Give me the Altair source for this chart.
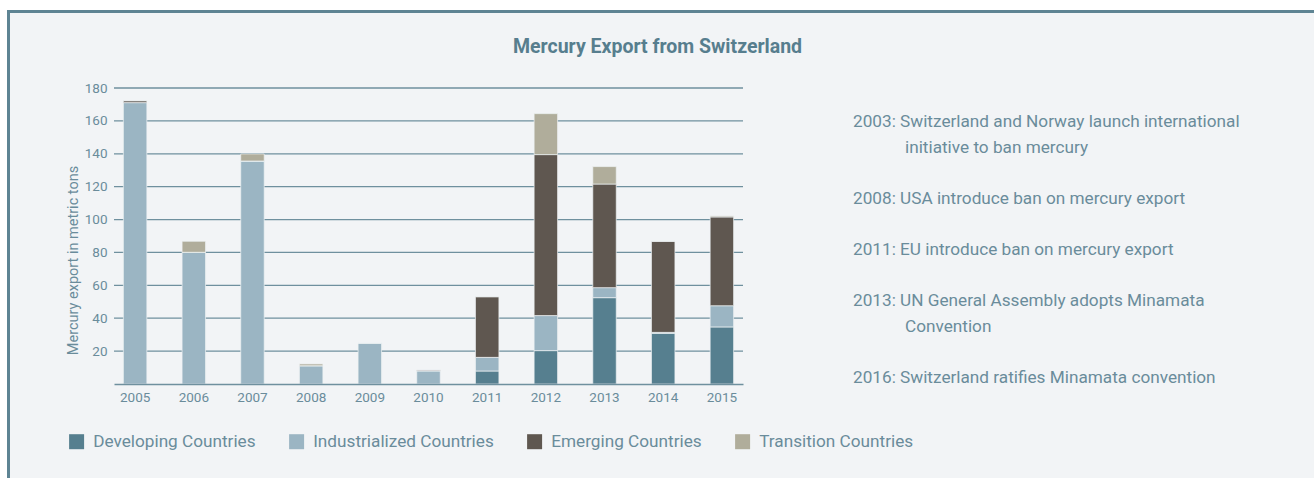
import altair as alt
import pandas as pd

years = ["2005", "2006", "2007", "2008", "2009", "2010", "2011", "2012", "2013", "2014", "2015"]
developing = [0, 0, 0, 0, 0, 0, 7.9, 20.3, 52.5, 30.8, 34.7]
industrialized = [171.1, 80.1, 135.6, 11.1, 24.9, 7.9, 8.3, 21.3, 6.1, 0.6, 12.9]
emerging = [1.2, 0, 0, 0, 0, 0.6, 36.9, 97.9, 63.0, 55.4, 54.0]
transition = [0, 6.7, 4.3, 1.1, 0, 0, 0, 24.9, 10.6, 0, 0.6]

groups = ["Developing Countries", "Industrialized Countries", "Emerging Countries", "Transition Countries"]
colors = ["#567f8f", "#9bb5c3", "#5f5750", "#b0ad9b"]

grid_values = [20, 40, 60, 80, 100, 120, 140, 160, 180]

note_first = [
    "2003: Switzerland and Norway launch international",
    "2008: USA introduce ban on mercury export",
    "2011: EU introduce ban on mercury export",
    "2013: UN General Assembly adopts Minamata",
    "2016: Switzerland ratifies Minamata convention",
]
note_first_slot = [0, 3, 5, 7, 10]
note_cont = ["initiative to ban mercury", "Convention"]
note_cont_slot = [1, 8]

FONT = "Roboto"
TXT = "#6a8c9b"
LINE = "#6f909e"

rows = []
for i, y in enumerate(years):
    for k, (g, vals) in enumerate(zip(groups, [developing, industrialized, emerging, transition])):
        rows.append({"year": y, "group": g, "value": vals[i], "k": k})
df = pd.DataFrame(rows)

W, H = 629, 296

frame = alt.Chart(pd.DataFrame({"a": [0]})).mark_rect(
    fill="#f2f4f6", stroke="#5e8493", strokeWidth=3
).encode(
    x=alt.value(-105.5), x2=alt.value(1220), y=alt.value(-76.5), y2=alt.value(420)
)

grid = alt.Chart(pd.DataFrame({"v": grid_values})).mark_rule(
    color=LINE, strokeWidth=1.3
).encode(
    y=alt.Y("v:Q", scale=alt.Scale(domain=[0, 180]), axis=None),
    x=alt.value(0), x2=alt.value(W),
)

bars = alt.Chart(df).mark_bar(stroke="#eef2f4", strokeWidth=0.7).encode(
    x=alt.X("year:N", sort=years,
            scale=alt.Scale(paddingInner=0.6, paddingOuter=0.16),
            axis=alt.Axis(title=None, labelAngle=0, ticks=False, domain=True,
                          domainColor=LINE, domainWidth=1.5, labelPadding=6,
                          labelFont=FONT, labelFontSize=13.5, labelColor=TXT, zindex=1)),
    y=alt.Y("value:Q", stack="zero", scale=alt.Scale(domain=[0, 180]),
            axis=alt.Axis(values=grid_values, grid=False, domain=False, ticks=False,
                          labelPadding=7, labelFont=FONT, labelFontSize=13.5, labelColor=TXT,
                          title="Mercury export in metric tons", titleFont=FONT,
                          titleFontSize=14.5, titleColor=TXT, titleFontWeight="normal",
                          titleAngle=270, titleAlign="center", titleBaseline="middle",
                          titleX=-41, titleY=172, zindex=1)),
    color=alt.Color("group:N", sort=groups,
                    scale=alt.Scale(domain=groups, range=colors),
                    legend=alt.Legend(title=None, orient="none", direction="horizontal",
                                      legendX=-46, legendY=345, symbolType="square",
                                      symbolSize=225, symbolStrokeWidth=0,
                                      symbolOpacity=1, labelFont=FONT, labelFontSize=17.2,
                                      labelColor=TXT, labelOffset=8, columnPadding=32,
                                      labelLimit=400)),
    order=alt.Order("k:Q", sort="ascending"),
)

slot_scale = alt.Scale(domain=[0, 10], range=[34, 290])

notes1 = alt.Chart(pd.DataFrame({"t": note_first, "s": note_first_slot})).mark_text(
    align="left", baseline="middle", font=FONT, fontSize=17.2, color=TXT
).encode(
    y=alt.Y("s:Q", scale=slot_scale, axis=None),
    x=alt.value(739),
    text="t:N",
)

notes2 = alt.Chart(pd.DataFrame({"t": note_cont, "s": note_cont_slot})).mark_text(
    align="left", baseline="middle", font=FONT, fontSize=17.2, color=TXT
).encode(
    y=alt.Y("s:Q", scale=slot_scale, axis=None),
    x=alt.value(791),
    text="t:N",
)

chart = alt.layer(frame, grid, bars, notes1, notes2).resolve_scale(
    y="independent"
).properties(
    width=W, height=H,
    title=alt.TitleParams("Mercury Export from Switzerland", font=FONT, fontSize=19.5,
                          fontWeight="bold", color="#577e8e", anchor="middle",
                          frame="group", baseline="bottom", dx=229, offset=-66),
    autosize=alt.AutoSizeParams(type="none"),
    padding={"left": 114, "top": 88, "right": 571, "bottom": 94},
).configure(background="white").configure_view(strokeWidth=0)

chart.save("out.html", embed_options={"renderer": "svg", "actions": False})
